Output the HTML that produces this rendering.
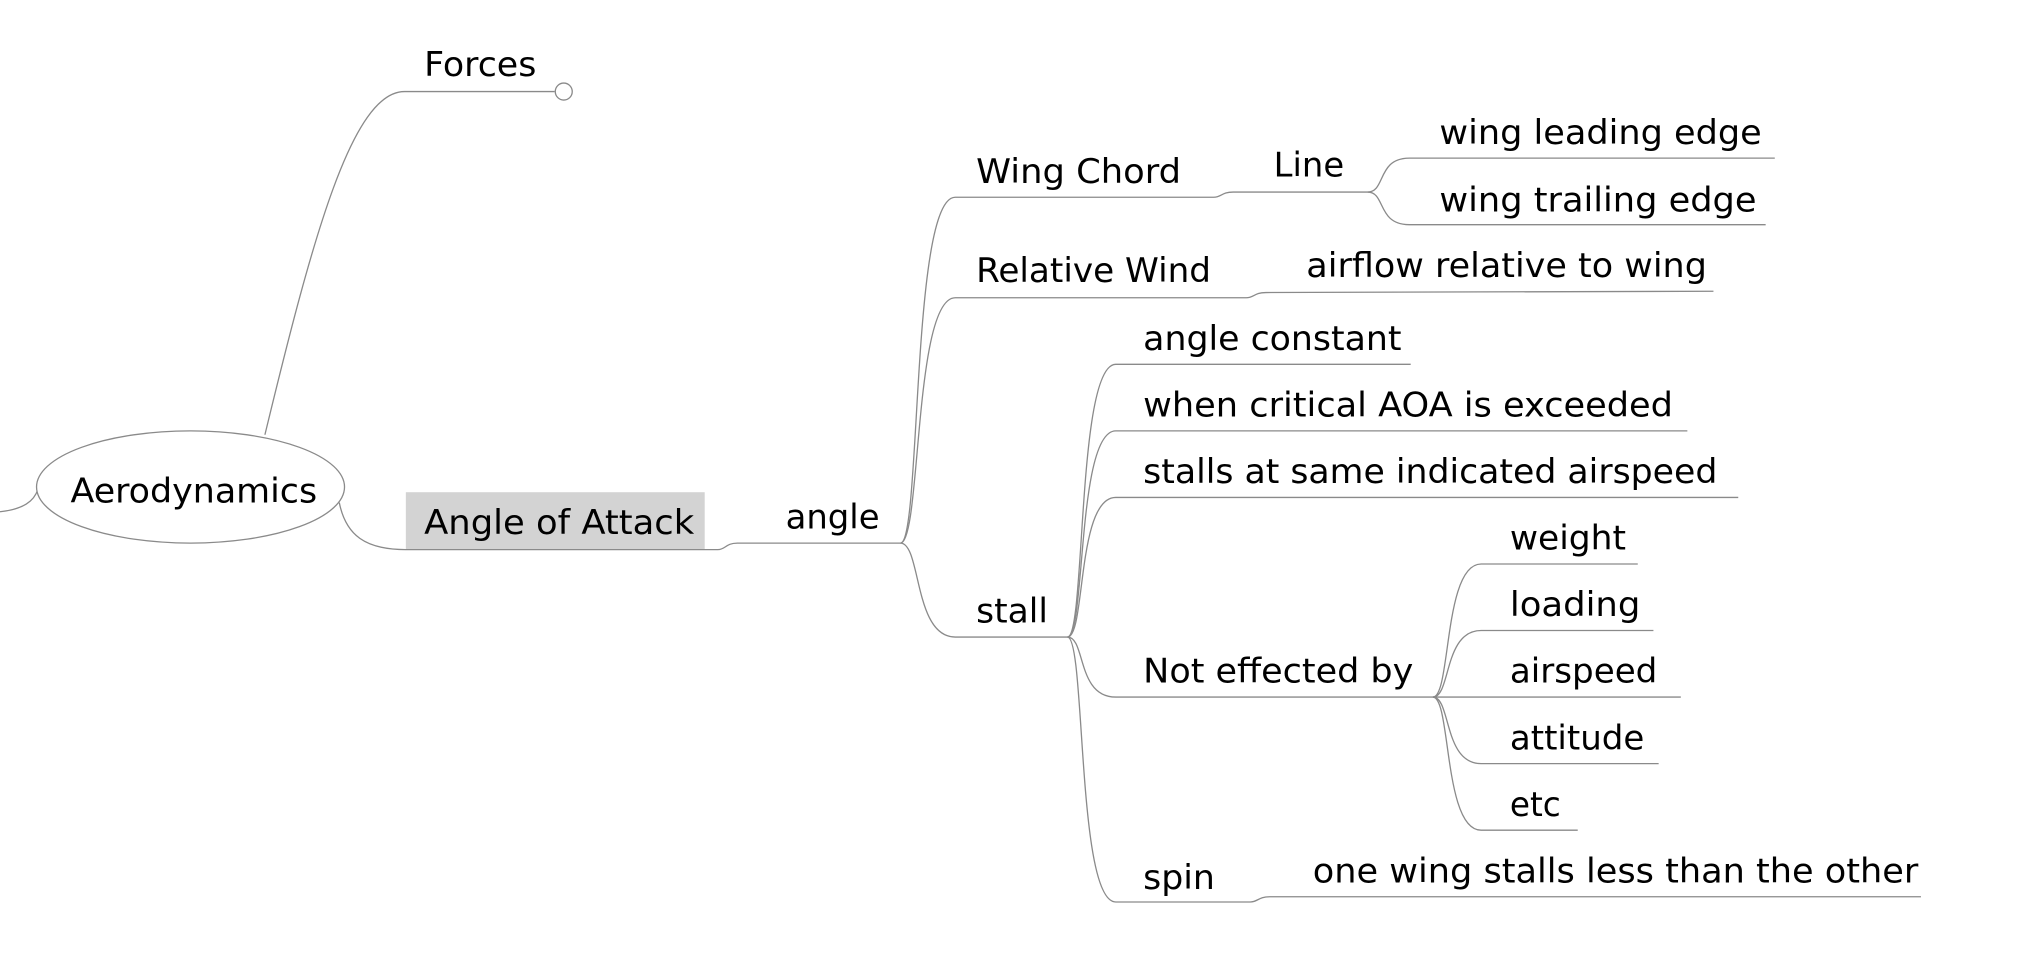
<!DOCTYPE html>
<html><head><meta charset="utf-8"><style>
html,body{margin:0;padding:0;background:#fff;width:2026px;height:957px;overflow:hidden}
svg{display:block}
text{font-family:"DejaVu Sans","Liberation Sans",sans-serif;font-size:26px;fill:#000}
path,line{fill:none;stroke:#8a8a8a;stroke-width:1}
</style></head><body>
<svg width="2026" height="957" viewBox="0 0 1552.5 733" xmlns="http://www.w3.org/2000/svg">
<!-- root -->
<path d="M0,392 C18,390 26,384 29,375"/>
<ellipse cx="146" cy="373" rx="118" ry="43" fill="#fff" stroke="#8a8a8a"/>
<text x="54" y="385" textLength="189" lengthAdjust="spacingAndGlyphs">Aerodynamics</text>
<!-- Forces -->
<path d="M203,333 C240,180 270,70 310,70 L425,70"/>
<circle cx="432" cy="70" r="6.5" fill="#fff" stroke="#8a8a8a"/>
<text x="325" y="58" textLength="86" lengthAdjust="spacingAndGlyphs">Forces</text>
<!-- AoA -->
<rect x="311" y="377" width="229" height="44" fill="#d3d3d3"/>
<path d="M260,385 C265,410 280,421 311,421 L550,421 C556,421 556,416 565,416 L690,416"/>
<text x="325" y="409" textLength="207" lengthAdjust="spacingAndGlyphs">Angle of Attack</text>
<text x="602" y="405" textLength="72" lengthAdjust="spacingAndGlyphs">angle</text>
<!-- angle children -->
<path d="M690,416 C706,416 698,151 732,151 L930,151 C936,151 936,147 945,147 L1048,147"/>
<path d="M690,416 C706,416 700,228 732,228 L955,228 C961,228 961,224 970,224 L1313,223"/>
<path d="M690,416 C706,416 700,488 732,488 L818,488"/>
<text x="748" y="140" textLength="157" lengthAdjust="spacingAndGlyphs">Wing Chord</text>
<text x="976" y="135" textLength="54" lengthAdjust="spacingAndGlyphs">Line</text>
<path d="M1048,147 C1062,147 1055,121 1080,121 L1360,121"/>
<path d="M1048,147 C1062,147 1055,172 1080,172 L1353,172"/>
<text x="1103" y="110" textLength="247" lengthAdjust="spacingAndGlyphs">wing leading edge</text>
<text x="1103" y="162" textLength="243" lengthAdjust="spacingAndGlyphs">wing trailing edge</text>
<text x="748" y="216" textLength="180" lengthAdjust="spacingAndGlyphs">Relative Wind</text>
<text x="1001" y="212" textLength="307" lengthAdjust="spacingAndGlyphs">airflow relative to wing</text>
<text x="748" y="477" textLength="55" lengthAdjust="spacingAndGlyphs">stall</text>
<!-- stall children -->
<path d="M818,488 C832,488 825,279 855,279 L1081,279"/>
<path d="M818,488 C832,488 825,330 855,330 L1293,330"/>
<path d="M818,488 C832,488 825,381 855,381 L1332,381"/>
<path d="M818,488 C832,488 825,534 855,534 L1098,534"/>
<path d="M818,488 C832,488 825,691 855,691 L958,691 C964,691 964,687 973,687 L1472,687"/>
<text x="876" y="268" textLength="198" lengthAdjust="spacingAndGlyphs">angle constant</text>
<text x="876" y="319" textLength="406" lengthAdjust="spacingAndGlyphs">when critical AOA is exceeded</text>
<text x="876" y="370" textLength="440" lengthAdjust="spacingAndGlyphs">stalls at same indicated airspeed</text>
<text x="876" y="523" textLength="207" lengthAdjust="spacingAndGlyphs">Not effected by</text>
<text x="876" y="681" textLength="55" lengthAdjust="spacingAndGlyphs">spin</text>
<text x="1006" y="676" textLength="464" lengthAdjust="spacingAndGlyphs">one wing stalls less than the other</text>
<!-- Not effected by children -->
<path d="M1098,534 C1112,534 1106,432 1135,432 L1255,432"/>
<path d="M1098,534 C1112,534 1106,483 1135,483 L1267,483"/>
<path d="M1098,534 L1288,534"/>
<path d="M1098,534 C1112,534 1106,585 1135,585 L1271,585"/>
<path d="M1098,534 C1112,534 1106,636 1135,636 L1209,636"/>
<text x="1157" y="421" textLength="89" lengthAdjust="spacingAndGlyphs">weight</text>
<text x="1157" y="472" textLength="100" lengthAdjust="spacingAndGlyphs">loading</text>
<text x="1157" y="523" textLength="113" lengthAdjust="spacingAndGlyphs">airspeed</text>
<text x="1157" y="574" textLength="103" lengthAdjust="spacingAndGlyphs">attitude</text>
<text x="1157" y="625" textLength="39" lengthAdjust="spacingAndGlyphs">etc</text>
</svg>
</body></html>
